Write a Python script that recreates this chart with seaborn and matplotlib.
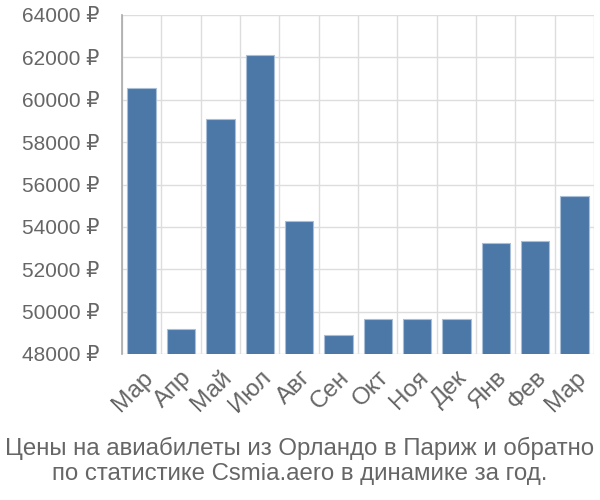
import seaborn as sns
import matplotlib.pyplot as plt
import pandas as pd
import numpy as np
from matplotlib.ticker import FixedLocator, FuncFormatter

# данные: средняя цена по месяцам
months = ['Мар', 'Апр', 'Май', 'Июл', 'Авг', 'Сен', 'Окт', 'Ноя', 'Дек', 'Янв', 'Фев', 'Мар']
prices = [60550, 49200, 59080, 62100, 54270, 48900, 49650, 49650, 49650, 53250, 53350, 55470]
yticks = [48000, 50000, 52000, 54000, 56000, 58000, 60000, 62000, 64000]

df = pd.DataFrame({'pos': [str(i) for i in range(len(months))], 'price': prices})

sns.set_style('white')
plt.rcParams['font.family'] = ['Liberation Sans', 'DejaVu Sans']

fig = plt.figure(figsize=(6, 5), dpi=100)
ax = fig.add_axes([0.2033, 0.292, 0.787, 0.678])

sns.barplot(data=df, x='pos', y='price', color='#4c78a8', saturation=1,
            width=0.72, edgecolor='#a9bfd8', linewidth=0.8, ax=ax, zorder=3)

ax.set_ylim(48000, 64000)
ax.set_xlim(-0.5, len(months) - 0.5)
ax.set_yticks(yticks)
ax.yaxis.set_major_formatter(FuncFormatter(lambda v, p: f'{int(v)} ₽'))
ax.set_xticks(range(len(months)))
ax.set_xticklabels(months, rotation=45, ha='right', rotation_mode='anchor')
ax.xaxis.set_minor_locator(FixedLocator(np.arange(-0.5, len(months), 1)))

ax.grid(axis='y', which='major', color='#dddddd', linewidth=1, zorder=0)
ax.grid(axis='x', which='minor', color='#dddddd', linewidth=1, zorder=0)
ax.tick_params(axis='y', length=14, color='#dddddd', width=1, labelsize=15,
               labelcolor='#666666', pad=2)
ax.tick_params(axis='x', which='major', length=0, labelsize=17.5,
               labelcolor='#666666', pad=9)
ax.tick_params(axis='x', which='minor', length=15, color='#dddddd', width=1)

for s in ['top', 'right', 'bottom']:
    ax.spines[s].set_visible(False)
ax.spines['left'].set_color('#aaaaaa')
ax.spines['left'].set_linewidth(1.2)
ax.set_xlabel('')
ax.set_ylabel('')

fig.text(0.5, 0.03, 'Цены на авиабилеты из Орландо в Париж и обратно\nпо статистике Csmia.aero в динамике за год.',
         ha='center', va='bottom', fontsize=17.3, color='#666666', linespacing=1.2)

fig.savefig('out.png', dpi=100)
